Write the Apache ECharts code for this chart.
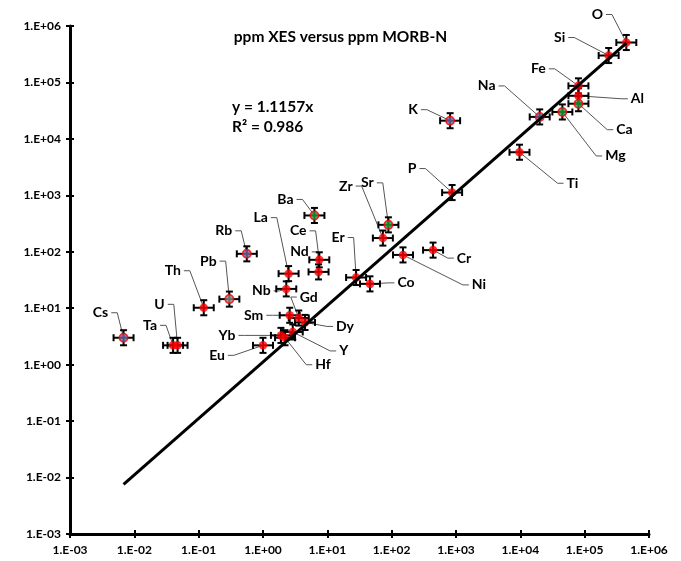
<!DOCTYPE html>
<html>
<head>
<meta charset="utf-8">
<script src="https://cdn.jsdelivr.net/npm/echarts@6/dist/echarts.min.js"></script>
<style>
  html, body { margin: 0; padding: 0; background: #fff; }
  #chart { width: 681px; height: 561px; }
</style>
</head>
<body>
<div id="chart"></div>
<script>
// element names, ppm MORB-N (x) and ppm XES (y)
const elements = ['O', 'Si', 'Fe', 'Al', 'Ca', 'Mg', 'Na', 'K', 'Ti', 'P',
  'Ba', 'Sr', 'Zr', 'La', 'Ce', 'Nd', 'Rb', 'Pb', 'Nb', 'Er', 'Co', 'Cr', 'Ni',
  'Th', 'Cs', 'Ta', 'U', 'Eu', 'Sm', 'Gd', 'Dy', 'Y', 'Yb', 'Hf'];
const morbN = [4.44e5, 2.36e5, 8.0e4, 8.0e4, 8.0e4, 4.5e4, 2.0e4, 810, 9700, 870,
  6.3, 89, 73, 2.5, 7.5, 7.3, 0.56, 0.30, 2.3, 28, 46, 440, 150,
  0.12, 0.0068, 0.040, 0.047, 1.0, 2.6, 3.6, 4.5, 2.9, 1.9, 2.2];
const xes = [5.1e5, 3.0e5, 8.7e4, 5.8e4, 4.2e4, 3.0e4, 2.45e4, 2.1e4, 5800, 1120,
  440, 300, 175, 41, 72, 44, 92, 14.5, 22, 35, 27, 107, 88,
  10.2, 3.0, 2.2, 2.2, 2.2, 7.5, 6.7, 5.6, 3.8, 3.3, 3.0];
// marker group of each point
const groups = ['r', 'r', 'r', 'r', 'g', 'g', 'p', 'p', 'r', 'r',
  'g', 'g', 'r', 'r', 'r', 'r', 'p', 'k', 'r', 'r', 'r', 'r', 'r',
  'r', 'p', 'r', 'r', 'r', 'r', 'r', 'r', 'r', 'r', 'r'];
// error bars, as multiplicative factors
const xErrFactor = 1.43;
const yErrFactor = 1.36;
// trendline
const slope = 1.1157;
const tickLabels = ['1.E-03', '1.E-02', '1.E-01', '1.E+00', '1.E+01',
  '1.E+02', '1.E+03', '1.E+04', '1.E+05', '1.E+06'];

// label offset from its point, in px
const labelOffsets = [[-29, -28], [-49, -18], [-40, -17], [59, 3], [46, 26], [53, 44],
  [-53, -31], [-37, -11], [53, 31], [-40, -24], [-29, -16], [-21, -42], [-37, -52],
  [-28, -56], [-21, -29], [-19, -20], [-23, -23], [-21, -38], [-25, 2], [-18, -40],
  [36, -1], [31, 8], [76, 30], [-31, -37], [-23, -25], [-23, -20], [-18, -41],
  [-46, 10], [-36, 0], [10, -21], [40, 4], [51, 19], [-54, 0], [38, 27]];

const fills = { r: '#ff0000', g: '#1f9a3c', p: '#6e64a0', k: '#8a8a8a' };
const FONT = 'bold 14px Lato';

const measureCtx = document.createElement('canvas').getContext('2d');
measureCtx.font = FONT;

const pts = morbN.map((x, i) => [x, xes[i]]);
const xMin = Math.min(...morbN);
const xMax = Math.max(...morbN);

function fmtTick(v) {
  const e = Math.round(Math.log10(v));
  return tickLabels[e + 3] || '';
}

const chart = echarts.init(document.getElementById('chart'));

const axisCommon = {
  type: 'log',
  logBase: 10,
  min: 0.001,
  max: 1e6,
  splitNumber: 9,
  splitLine: { show: false },
  axisLine: { show: true, lineStyle: { color: '#000', width: 3 } },
  axisTick: { show: true, length: 4, lineStyle: { color: '#000', width: 2 } },
  axisLabel: {
    formatter: fmtTick,
    color: '#000',
    fontFamily: 'Lato',
    fontWeight: 'bold',
    fontSize: 12
  }
};
const axisInside = {
  type: 'log',
  logBase: 10,
  min: 0.001,
  max: 1e6,
  splitNumber: 9,
  splitLine: { show: false },
  axisLine: { show: false },
  axisTick: { show: true, inside: true, length: 4, lineStyle: { color: '#000', width: 2 } },
  axisLabel: { show: false }
};

chart.setOption({
  animation: false,
  title: {
    text: 'ppm XES versus ppm MORB-N',
    left: 'center',
    top: 24,
    textStyle: { fontFamily: 'Lato', fontWeight: 'bold', fontSize: 15.5, color: '#000' }
  },
  graphic: [
    {
      type: 'text', left: 232, top: 97,
      style: { text: 'y = 1.1157x\nR² = 0.986', font: 'bold 15.5px Lato', fill: '#000', align: 'center', lineHeight: 20 }
    }
  ],
  grid: { left: 70, right: 32, top: 26, bottom: 27, outerBoundsMode: 'none' },
  xAxis: [
    Object.assign({}, axisCommon, { axisLabel: Object.assign({}, axisCommon.axisLabel, { margin: 10 }) }),
    Object.assign({}, axisInside, { position: 'bottom' })
  ],
  yAxis: [
    Object.assign({}, axisCommon, { axisLabel: Object.assign({}, axisCommon.axisLabel, { margin: 9 }) }),
    Object.assign({}, axisInside, { position: 'left' })
  ],
  series: [
    {
      // leader lines and labels
      type: 'custom',
      z: 1,
      data: pts,
      renderItem: function (params, api) {
        const i = params.dataIndex;
        const p = api.coord([api.value(0), api.value(1)]);
        const off = labelOffsets[i];
        const lx = p[0] + off[0];
        const ly = p[1] + off[1];
        const w = measureCtx.measureText(elements[i]).width;
        const side = off[0] < 0 ? 1 : -1;
        const sx = lx + side * (w / 2 + 3);
        const ex = sx + side * 6;
        return {
          type: 'group',
          children: [
            {
              type: 'polyline',
              shape: { points: [[sx, ly], [ex, ly], [p[0], p[1]]] },
              style: { stroke: '#555', lineWidth: 1, fill: null }
            },
            {
              type: 'text',
              style: { text: elements[i], x: lx, y: ly, font: FONT, fill: '#000', align: 'center', verticalAlign: 'middle' }
            }
          ]
        };
      }
    },
    {
      // error bars
      type: 'custom',
      z: 2,
      data: pts,
      renderItem: function (params, api) {
        const x = api.value(0);
        const y = api.value(1);
        const c = api.coord([x, y]);
        const l = api.coord([x / xErrFactor, y]);
        const r = api.coord([x * xErrFactor, y]);
        const t = api.coord([x, y * yErrFactor]);
        const b = api.coord([x, y / yErrFactor]);
        const st = { stroke: '#000', lineWidth: 2 };
        const cap = 3.5;
        return {
          type: 'group',
          children: [
            { type: 'line', shape: { x1: l[0], y1: c[1], x2: r[0], y2: c[1] }, style: st },
            { type: 'line', shape: { x1: c[0], y1: t[1], x2: c[0], y2: b[1] }, style: st },
            { type: 'line', shape: { x1: l[0], y1: c[1] - cap, x2: l[0], y2: c[1] + cap }, style: st },
            { type: 'line', shape: { x1: r[0], y1: c[1] - cap, x2: r[0], y2: c[1] + cap }, style: st },
            { type: 'line', shape: { x1: c[0] - cap, y1: t[1], x2: c[0] + cap, y2: t[1] }, style: st },
            { type: 'line', shape: { x1: c[0] - cap, y1: b[1], x2: c[0] + cap, y2: b[1] }, style: st }
          ]
        };
      }
    },
    {
      type: 'scatter',
      z: 3,
      symbolSize: 8.5,
      data: pts.map((p, i) => ({
        value: p,
        itemStyle: {
          color: fills[groups[i]],
          borderColor: '#ff0000',
          borderWidth: groups[i] === 'r' ? 0 : 1.5
        }
      }))
    },
    {
      type: 'line',
      z: 4,
      symbol: 'none',
      data: [[xMin, slope * xMin], [xMax, slope * xMax]],
      lineStyle: { color: '#000', width: 3 }
    }
  ]
});
</script>
</body>
</html>
